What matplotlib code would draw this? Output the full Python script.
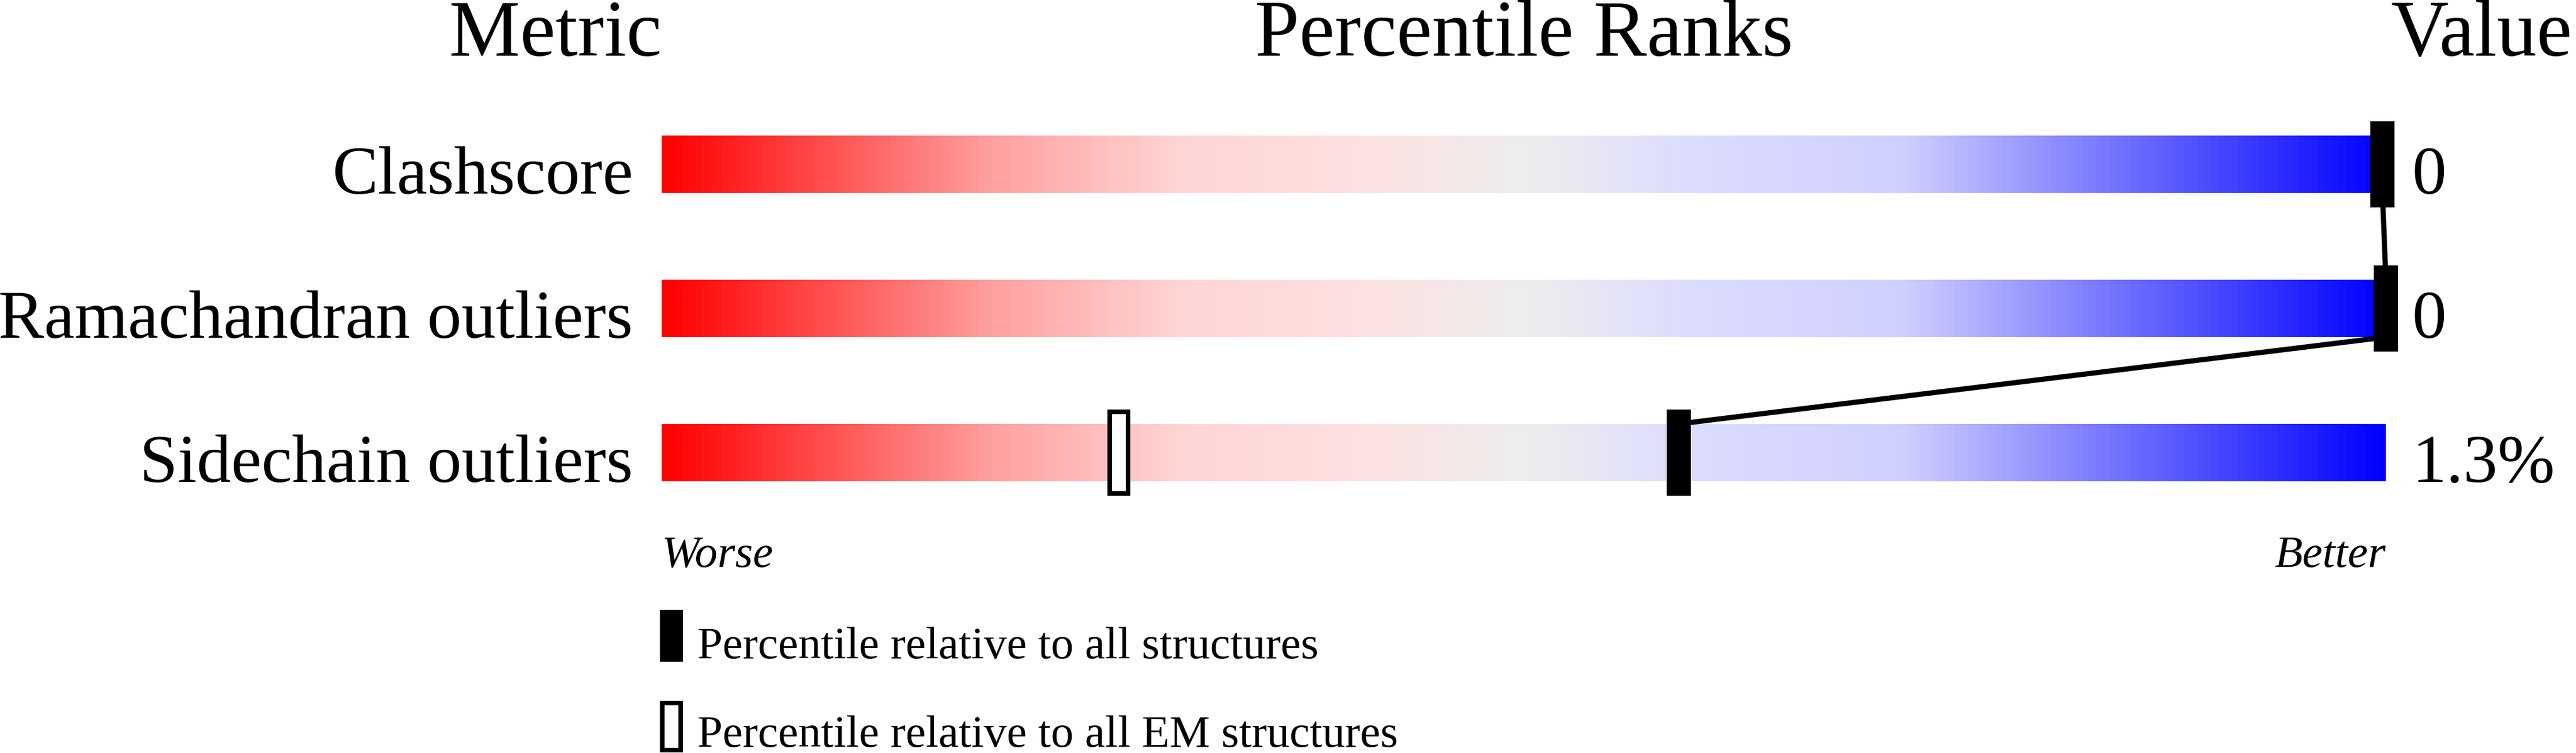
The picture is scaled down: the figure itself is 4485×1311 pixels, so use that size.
import numpy as np
import matplotlib
matplotlib.use("Agg")
import matplotlib.pyplot as plt
from matplotlib.colors import LinearSegmentedColormap
from matplotlib.patches import Rectangle

# データ
metrics = ["Clashscore", "Ramachandran outliers", "Sidechain outliers"]
values = ["0", "0", "1.3%"]
pct_all = [99.8, 100.0, 59.0]
pct_em = [None, None, 26.5]
legend_labels = ["Percentile relative to all structures",
                 "Percentile relative to all EM structures"]

plt.rcParams['font.family'] = ['Liberation Serif', 'DejaVu Serif']

# レイアウト (ピクセル)
W, H, DPI = 4485, 1311, 100
BAR_X0, BAR_X1 = 1152, 4154
ROW0, ROW_STEP = 286, 251
PX_PCT = (BAR_X1 - BAR_X0) / 100.0


def xpx(p):
    return (p - BAR_X0) / PX_PCT


def ypx(p):
    return (p - ROW0) / ROW_STEP


bar_h = 100 / ROW_STEP
mark_h = 150 / ROW_STEP
mark_w = 42 / PX_PCT
lw_px = 8
lw_pt = lw_px * 72 / DPI

slider = LinearSegmentedColormap.from_list("slider", [
    (0.0, "#ff0000"), (0.19, "#ffa0a0"), (0.3, "#ffd5d5"), (0.4, "#fee0e0"),
    (0.5, "#eeeeee"), (0.6, "#dcdcff"), (0.72, "#d0d0ff"), (1.0, "#0000ff")])
grad = np.linspace(0, 1, 1024).reshape(1, -1)

fig = plt.figure(figsize=(W / DPI, H / DPI), dpi=DPI)
ax = fig.add_axes([0, 0, 1, 1])
ax.axis('off')

rows = np.arange(len(metrics))
for r in rows:
    ax.imshow(grad, cmap=slider, aspect='auto', interpolation='bilinear',
              extent=(0, 100, r + bar_h / 2, r - bar_h / 2), zorder=1)

# 接続線
for i in range(len(rows) - 1):
    ax.plot([pct_all[i], pct_all[i + 1]],
            [rows[i] + bar_h / 2, rows[i + 1] - bar_h / 2],
            color='black', lw=9 * 72 / DPI, solid_capstyle='butt', zorder=2)

# マーカー
for r, p in zip(rows, pct_all):
    ax.add_patch(Rectangle((p - mark_w / 2, r - mark_h / 2), mark_w, mark_h,
                           facecolor='black', edgecolor='none', zorder=3))
inner_w = (40 - lw_px) / PX_PCT
inner_h = (150 - lw_px) / ROW_STEP
for r, p in zip(rows, pct_em):
    if p is None:
        continue
    ax.add_patch(Rectangle((p - inner_w / 2, r - inner_h / 2), inner_w, inner_h,
                           facecolor='white', edgecolor='black', lw=lw_pt, zorder=3))

# テキスト
base_off = 51 / ROW_STEP
for r, name, val in zip(rows, metrics, values):
    ax.text(xpx(1102), r + base_off, name, ha='right', va='baseline', fontsize=86)
    ax.text(xpx(4200), r + base_off, val, ha='left', va='baseline', fontsize=86)

ax.text(xpx(1152), ypx(97), "Metric", ha='right', va='baseline', fontsize=100)
ax.text(50, ypx(97), "Percentile Ranks", ha='center', va='baseline', fontsize=100)
ax.text(xpx(4162), ypx(97), "Value", ha='left', va='baseline', fontsize=100)

ax.text(0, ypx(987), "Worse", ha='left', va='baseline', fontsize=57, style='italic')
ax.text(100, ypx(987), "Better", ha='right', va='baseline', fontsize=57, style='italic')

# 凡例
leg_w = 40 / PX_PCT
leg_h = 90 / ROW_STEP
ax.add_patch(Rectangle((xpx(1149), ypx(1062)), leg_w, leg_h,
                       facecolor='black', edgecolor='none', clip_on=False))
ax.add_patch(Rectangle((xpx(1149 + lw_px / 2), ypx(1220 + lw_px / 2)),
                       (40 - lw_px) / PX_PCT, (90 - lw_px) / ROW_STEP,
                       facecolor='white', edgecolor='black', lw=lw_pt, clip_on=False))
ax.text(xpx(1214), ypx(1146), legend_labels[0], ha='left', va='baseline', fontsize=57)
ax.text(xpx(1214), ypx(1300), legend_labels[1], ha='left', va='baseline', fontsize=57)

ax.set_xlim(xpx(0), xpx(W))
ax.set_ylim(ypx(H), ypx(0))

fig.savefig("out.png", dpi=DPI)
plt.close(fig)
